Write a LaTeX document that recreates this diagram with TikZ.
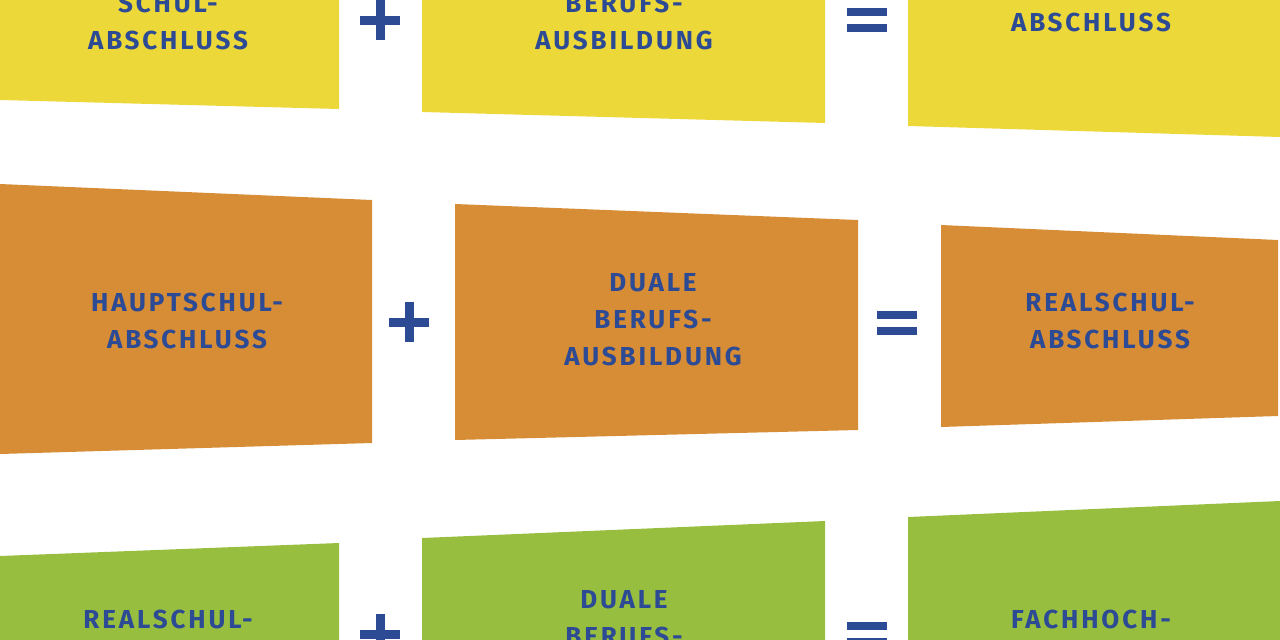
\documentclass[tikz,border=0pt]{standalone}
\usepackage{fontspec}
\setmainfont{Fira Sans}[LetterSpace=11]
\definecolor{yel}{HTML}{EDD83A}
\definecolor{ora}{HTML}{D68D36}
\definecolor{gre}{HTML}{97BE3F}
\definecolor{blu}{HTML}{2D4A94}
\begin{document}
\begin{tikzpicture}[x=1pt,y=-1pt,
  lbl/.style={text=blu,font=\fontsize{26}{37}\selectfont\bfseries,align=center,anchor=center},
  bar/.style={fill=blu}]
\useasboundingbox (0,0) rectangle (1280,640);
\clip (0,0) rectangle (1280,640);
% top row
\fill[yel] (0,-20) -- (339,-20) -- (339,109) -- (0,100) -- cycle;
\fill[yel] (422,-20) -- (825,-20) -- (825,123) -- (422,112) -- cycle;
\fill[yel] (908,-20) -- (1280,-20) -- (1280,137) -- (908,126) -- cycle;
% middle row
\fill[ora] (0,184) -- (372,200) -- (372,443) -- (0,454) -- cycle;
\fill[ora] (455,204) -- (858,220) -- (858,430) -- (455,440) -- cycle;
\fill[ora] (941,225) -- (1278,240) -- (1278,416) -- (941,427) -- cycle;
% bottom row
\fill[gre] (0,556) -- (339,543) -- (339,660) -- (0,660) -- cycle;
\fill[gre] (422,538) -- (825,521) -- (825,660) -- (422,660) -- cycle;
\fill[gre] (908,517) -- (1280,501) -- (1280,660) -- (908,660) -- cycle;
% labels
\node[lbl] (t1) at (168,22) {SCHUL-\\ABSCHLUSS};
\node[lbl] (t2) at (624,22) {BERUFS-\\AUSBILDUNG};
\node[lbl] (t3) at (1091,22) {ABSCHLUSS};
\node[lbl] (m1) at (187,321) {HAUPTSCHUL-\\ABSCHLUSS};
\node[lbl] (m2) at (653,320) {DUALE\\BERUFS-\\AUSBILDUNG};
\node[lbl] (m3) at (1110,321) {REALSCHUL-\\ABSCHLUSS};
\node[lbl] (b1) at (168,638) {REALSCHUL-\\ABSCHLUSS};
\node[lbl] (b2) at (624,637) {DUALE\\BERUFS-\\AUSBILDUNG};
\node[lbl] (b3) at (1091,638) {FACHHOCH-\\SCHULREIFE};
% plus and equals signs
\foreach \cx/\cy in {380/20,409/322,380/634} {
  \fill[bar] (\cx-20,\cy-4.5) rectangle (\cx+20,\cy+4.5);
  \fill[bar] (\cx-4.5,\cy-20) rectangle (\cx+4.5,\cy+20);
}
\foreach \cx/\cy in {867/20,897/323,867/634} {
  \fill[bar] (\cx-20,\cy-12) rectangle (\cx+20,\cy-4);
  \fill[bar] (\cx-20,\cy+4) rectangle (\cx+20,\cy+12);
}
\end{tikzpicture}
\end{document}
